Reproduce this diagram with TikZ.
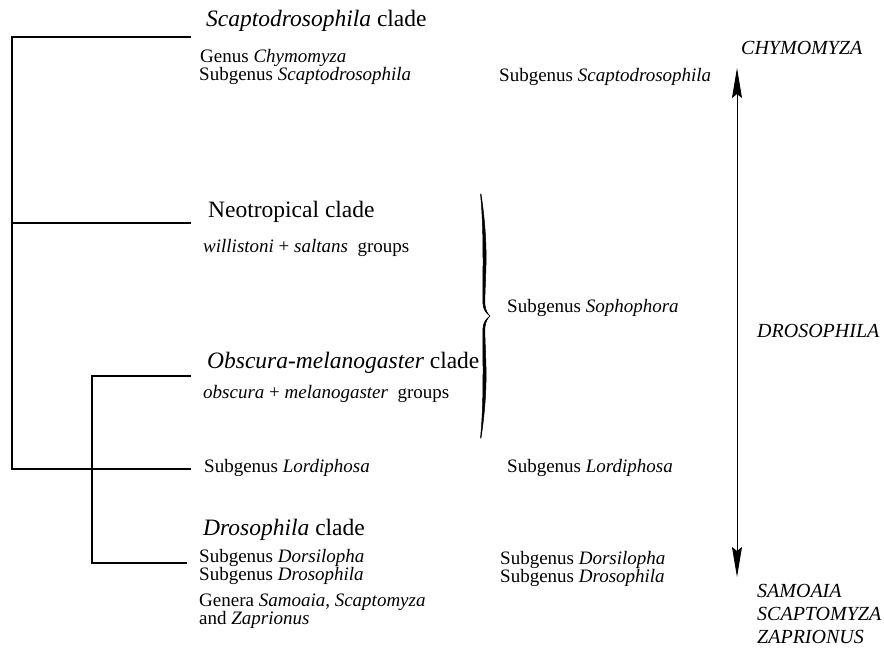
\documentclass[tikz,border=0pt]{standalone}
\usepackage{fontspec}
\setmainfont{Liberation Serif}
\usetikzlibrary{arrows.meta}
\begin{document}
\begin{tikzpicture}[x=1pt,y=-1pt,
  sm/.style={anchor=base west,inner sep=0pt,font=\fontsize{19}{20}\selectfont},
  lg/.style={anchor=base west,inner sep=0pt,font=\fontsize{23.5}{24}\selectfont},
  caps/.style={anchor=base west,inner sep=0pt,font=\fontsize{20}{20}\selectfont\itshape},
  tree/.style={line width=1.1pt,line cap=rect},
  bracefill/.style={fill=black,draw=black,line width=0.5pt,line join=round}]
\useasboundingbox (0,0) rectangle (884,650);
% tree joints
\coordinate (r1) at (12,37);
\coordinate (r2) at (12,223);
\coordinate (r3) at (12,469);
\coordinate (e1) at (190,37);
\coordinate (e2) at (190,223);
\coordinate (e3) at (190,469);
\coordinate (i1) at (92,376);
\coordinate (i2) at (92,563);
\coordinate (ie1) at (190,376);
\coordinate (ie2) at (186,563);
\draw[tree] (e1) -- (r1) -- (r3) -- (e3);
\draw[tree] (r2) -- (e2);
\draw[tree] (ie1) -- (i1) -- (i2) -- (ie2);
% left texts
\node[lg] (scl) at (206,27) {\textit{Scaptodrosophila} clade};
\node[sm] (gch) at (200,63) {Genus \textit{Chymomyza}};
\node[sm] (ssc) at (199,81) {Subgenus \textit{Scaptodrosophila}};
\node[lg] (neo) at (208,217) {Neotropical clade};
\node[sm] (wil) at (203,252) {\textit{willistoni} + \textit{saltans}\ \ groups};
\node[lg] (obm) at (207,368) {\textit{Obscura-melanogaster} clade};
\node[sm] (obg) at (203,398) {\textit{obscura} + \textit{melanogaster}\ \ groups};
\node[sm] (lor) at (204,472) {Subgenus \textit{Lordiphosa}};
\node[lg] (drc) at (203,535) {\textit{Drosophila} clade};
\node[sm] (dor) at (199,562) {Subgenus \textit{Dorsilopha}};
\node[sm] (dro) at (199,580) {Subgenus \textit{Drosophila}};
\node[sm] (gen) at (199,606) {Genera \textit{Samoaia}, \textit{Scaptomyza}};
\node[sm] (zap) at (199,624) {and \textit{Zaprionus}};
% brace
\fill[bracefill] (481,194) .. controls (485,220) and (486.5,245) .. (486,265)
  .. controls (485.5,285) and (484.5,300) .. (485,305)
  .. controls (485.5,311) and (488,314) .. (490,316)
  .. controls (486,313) and (483.5,310) .. (483,304)
  .. controls (482.5,295) and (483,280) .. (483,265)
  .. controls (483,245) and (483,220) .. (480.5,194) -- cycle;
\fill[bracefill] (490,316) .. controls (488,318) and (485.5,321) .. (485,327)
  .. controls (484.5,332) and (485.5,347) .. (486,367)
  .. controls (486.5,387) and (485,412) .. (481,438)
  -- (480.5,438) .. controls (483,412) and (483,387) .. (483,367)
  .. controls (483,352) and (482.5,337) .. (483,328)
  .. controls (483.5,322) and (486,319) .. (490,316) -- cycle;
% middle texts
\node[sm] (mss) at (499,82) {Subgenus \textit{Scaptodrosophila}};
\node[sm] (mso) at (507,312) {Subgenus \textit{Sophophora}};
\node[sm] (mlo) at (507,472) {Subgenus \textit{Lordiphosa}};
\node[sm] (mdo) at (500,564) {Subgenus \textit{Dorsilopha}};
\node[sm] (mdr) at (500,582) {Subgenus \textit{Drosophila}};
% arrow
\coordinate (atop) at (737,68);
\coordinate (abot) at (737,577);
\draw[line width=0.9pt,{Stealth[length=30pt,width=10pt,inset=4pt]}-{Stealth[length=30pt,width=10pt,inset=4pt]}] (atop) -- (abot);
% right texts
\node[caps] (chy) at (741,55) {CHYMOMYZA};
\node[caps] (dros) at (757,337) {DROSOPHILA};
\node[caps] (sam) at (757,597) {SAMOAIA};
\node[caps] (sca) at (757,620) {SCAPTOMYZA};
\node[caps] (zapr) at (757,643) {ZAPRIONUS};
\end{tikzpicture}
\end{document}
